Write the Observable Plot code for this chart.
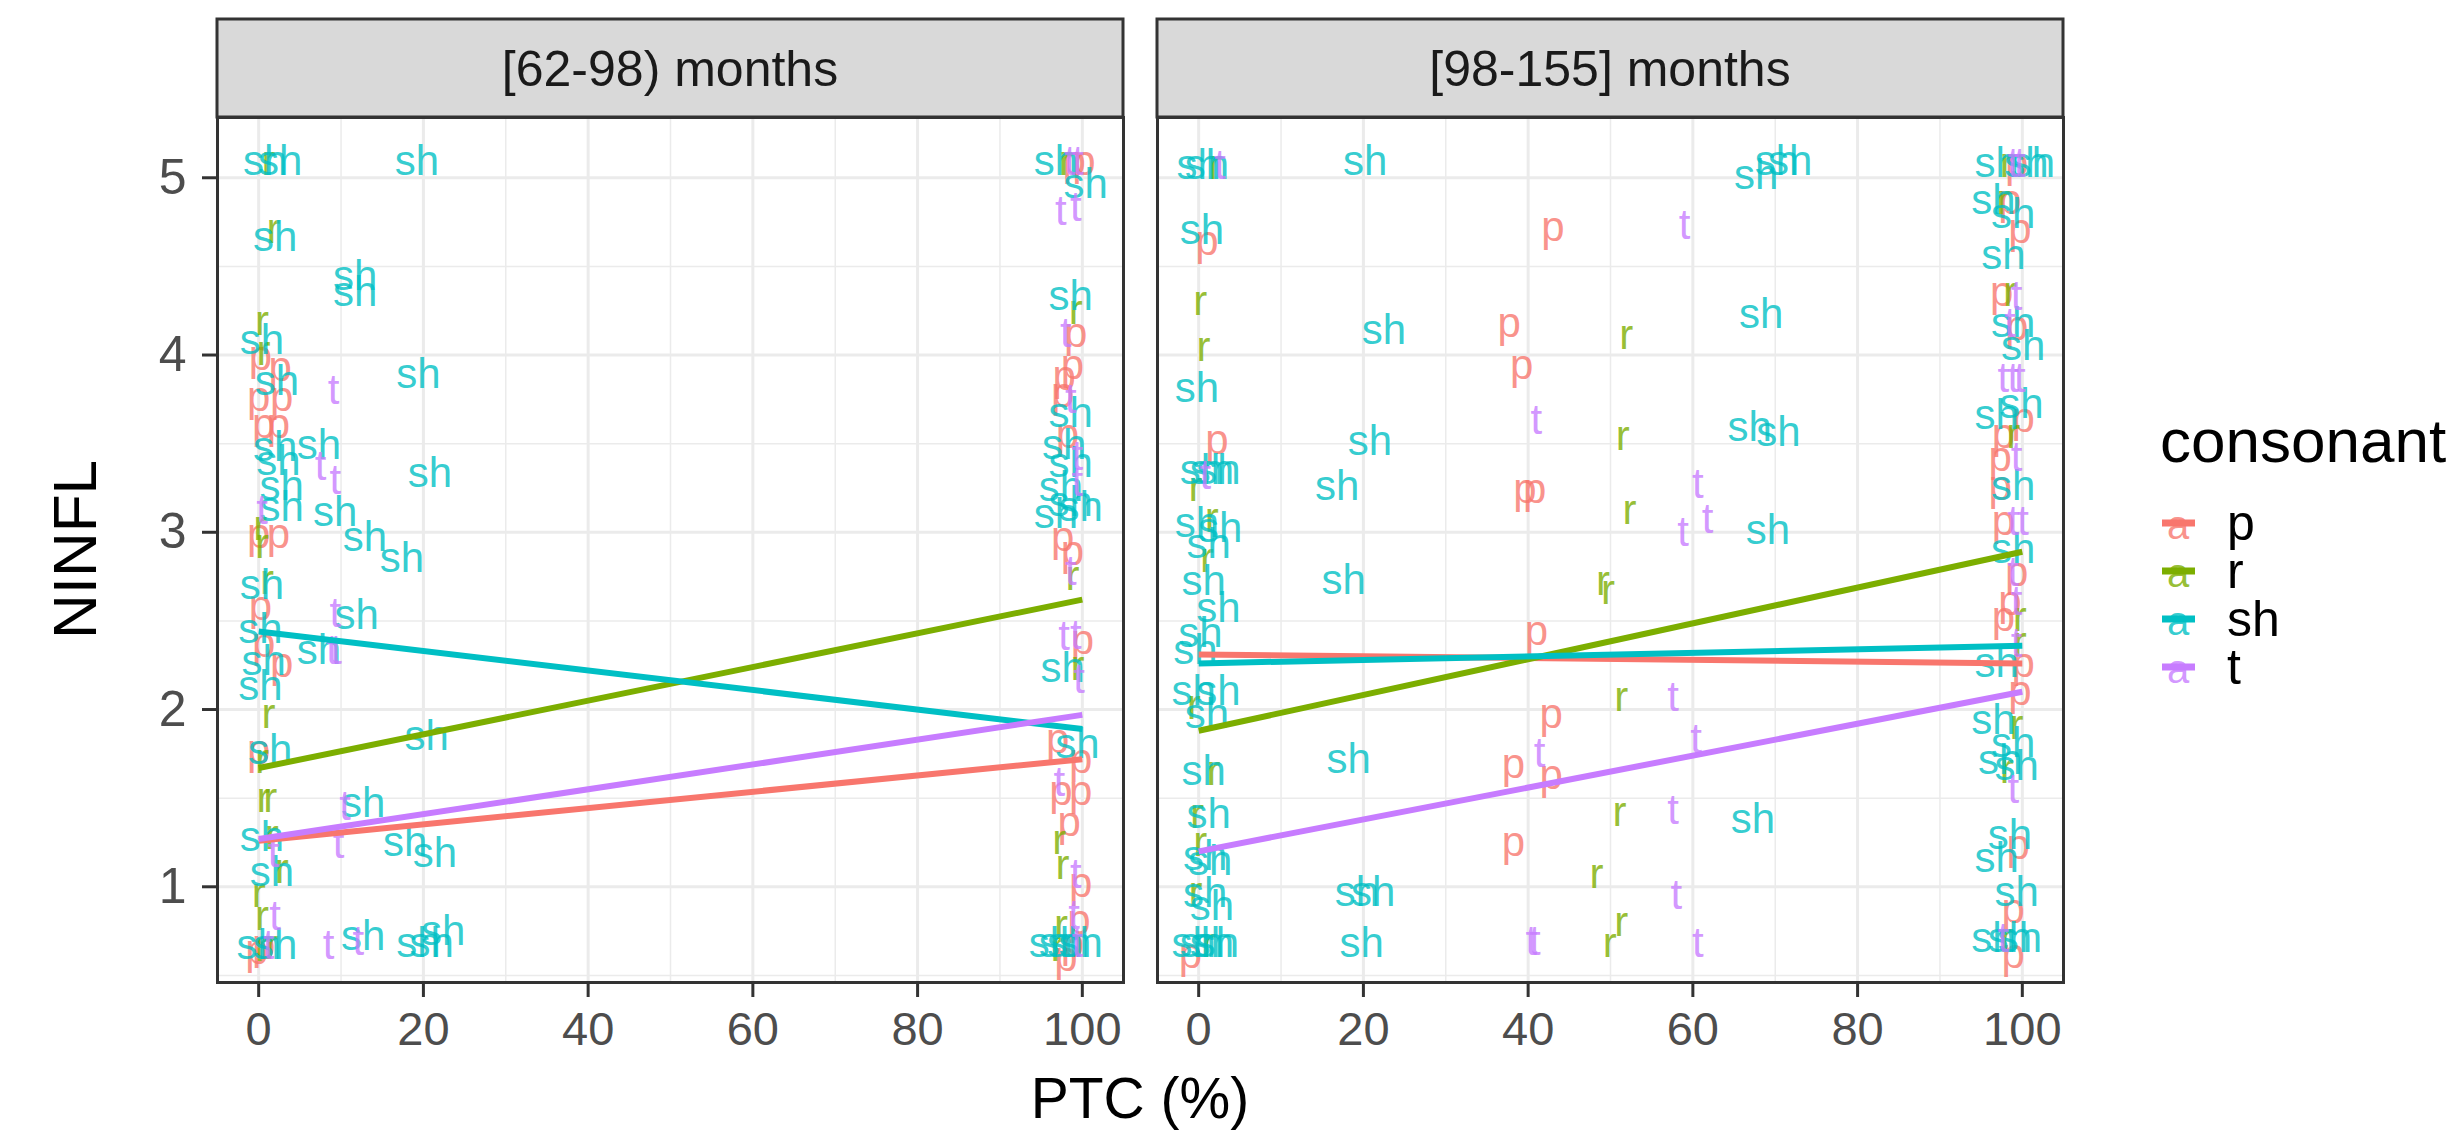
<!DOCTYPE html>
<html><head><meta charset="utf-8">
<script src="https://cdn.jsdelivr.net/npm/d3@7"></script>
<script src="https://cdn.jsdelivr.net/npm/@observablehq/plot@0.6"></script>
<style>
body{margin:0;background:#fff;font-family:"Liberation Sans",Arial,sans-serif;}
#wrap{position:relative;width:2455px;height:1133px;background:#fff;}
#chart{position:absolute;left:0;top:0;}
#legend{position:absolute;left:0;top:0;pointer-events:none;}
</style></head>
<body><div id="wrap"><div id="chart"></div><svg id="legend" width="2455" height="1133"></svg></div>
<script>
const panels = ["[62-98) months", "[98-155] months"];
const consonants = ["p", "r", "sh", "t"];
const palette = ["#F8766D", "#7CAE00", "#00BFC4", "#C77CFF"];
const xTicks = [0, 20, 40, 60, 80, 100];
const xMinor = [10, 30, 50, 70, 90];
const yTicks = [1, 2, 3, 4, 5];
const yMinor = [0.5, 1.5, 2.5, 3.5, 4.5];
const xDomain = [-5, 105];
const yDomain = [0.46, 5.34];

// label positions [PTC, NINFL], panel [62-98) months
const youngP = [[0.2,3.99],[2.6,3.93],[0.0,3.76],[2.8,3.76],[0.6,3.61],[2.4,3.61],[0.0,2.99],[2.4,2.99],[0.2,2.58],[0.6,2.37],[2.8,2.26],[0.0,1.77],[0.6,0.67],[-0.2,0.64],[99.0,5.09],[100.2,5.09],[99.2,4.12],[98.8,3.94],[97.8,3.88],[97.6,3.78],[98.2,3.55],[97.6,2.97],[98.8,2.89],[100.0,2.39],[97.0,1.83],[99.8,1.72],[97.4,1.54],[99.8,1.54],[98.4,1.36],[99.8,1.02],[99.6,0.81],[98.8,0.68],[98.0,0.60]];
const youngR = [[1.2,5.09],[1.8,4.71],[0.4,4.19],[0.6,4.02],[0.2,3.03],[0.4,2.93],[1.0,2.73],[1.2,1.97],[0.4,1.72],[0.6,1.50],[1.4,1.50],[1.6,1.29],[2.8,1.10],[0.0,0.96],[0.4,0.83],[1.6,0.67],[0.4,0.66],[98.0,5.09],[99.2,4.25],[98.8,2.75],[99.4,2.24],[97.2,1.26],[97.6,1.12],[97.4,0.78],[97.0,0.66]];
const youngSH = [[0.8,5.09],[2.6,5.09],[19.2,5.09],[2.0,4.66],[11.7,4.44],[11.7,4.35],[0.4,4.08],[2.2,3.85],[19.4,3.89],[2.0,3.48],[7.3,3.49],[2.4,3.40],[20.8,3.33],[2.8,3.26],[2.8,3.14],[9.3,3.11],[12.9,2.97],[17.4,2.85],[0.4,2.70],[11.9,2.53],[0.2,2.45],[7.3,2.33],[0.6,2.27],[0.2,2.13],[1.4,1.77],[20.4,1.85],[12.7,1.47],[0.4,1.28],[17.8,1.25],[21.4,1.19],[1.6,1.08],[0.0,0.67],[2.0,0.67],[12.7,0.72],[19.4,0.68],[21.0,0.68],[22.4,0.75],[96.8,5.09],[100.4,4.96],[98.6,4.33],[98.6,3.67],[97.8,3.49],[98.6,3.39],[97.4,3.25],[98.6,3.17],[99.8,3.14],[96.8,3.10],[97.6,2.23],[99.4,1.80],[96.2,0.68],[97.4,0.68],[98.4,0.68],[99.8,0.68]];
const youngT = [[9.1,3.80],[7.5,3.37],[9.3,3.29],[0.4,3.12],[9.3,2.54],[8.9,2.33],[9.4,2.33],[10.5,1.45],[9.7,1.24],[1.8,1.19],[2.0,0.83],[1.2,0.67],[8.5,0.67],[12.1,0.69],[99.5,5.09],[98.5,5.09],[97.4,4.81],[99.2,4.83],[98.0,4.12],[98.6,3.75],[99.4,3.43],[99.4,3.28],[98.6,2.78],[97.8,2.41],[99.2,2.42],[99.6,2.17],[97.2,1.59],[99.2,1.07],[99.0,0.84],[99.4,0.68]];

// label positions [PTC, NINFL], panel [98-155] months
const olderP = [[1.0,4.64],[2.2,3.52],[-1.0,0.62],[43.0,4.72],[37.7,4.18],[39.2,3.94],[39.6,3.24],[40.8,3.24],[41.0,2.44],[42.8,1.97],[38.2,1.69],[42.8,1.63],[38.2,1.25],[99.3,5.08],[98.5,4.87],[99.7,4.71],[97.5,4.35],[99.3,4.16],[100.1,3.64],[97.7,3.55],[97.3,3.42],[97.3,3.26],[97.7,3.06],[99.3,2.77],[98.5,2.61],[97.7,2.52],[100.1,2.26],[99.7,2.10],[99.5,1.23],[98.9,0.87],[98.9,0.62]];
const olderR = [[2.0,5.07],[0.2,4.30],[0.6,4.04],[-0.4,3.25],[1.6,3.08],[1.0,2.85],[-0.6,2.02],[1.8,1.65],[-0.2,1.41],[0.2,1.25],[-0.4,0.97],[1.2,0.68],[51.9,4.11],[51.5,3.54],[52.3,3.12],[49.1,2.72],[49.7,2.67],[51.3,2.07],[51.1,1.42],[48.3,1.07],[51.3,0.80],[49.9,0.68],[98.1,5.08],[97.7,4.87],[98.5,4.35],[98.9,3.55],[99.7,2.52],[99.7,2.38],[99.3,1.91],[98.1,1.66],[98.1,0.71]];
const olderSH = [[0.0,5.07],[1.0,5.07],[20.2,5.09],[0.4,4.70],[22.5,4.14],[-0.2,3.81],[20.8,3.51],[16.8,3.26],[0.4,3.35],[1.6,3.35],[2.4,3.35],[-0.2,3.05],[2.6,3.02],[1.2,2.93],[0.6,2.72],[2.4,2.57],[17.6,2.73],[0.2,2.43],[-0.4,2.33],[2.4,2.10],[-0.6,2.10],[1.0,1.97],[0.6,1.65],[18.2,1.72],[1.2,1.41],[0.8,1.17],[1.4,1.14],[0.8,0.96],[1.6,0.89],[19.2,0.97],[21.2,0.97],[19.8,0.68],[-0.6,0.68],[0.4,0.68],[1.6,0.68],[2.2,0.68],[67.7,5.01],[70.2,5.09],[71.8,5.09],[68.3,4.23],[66.9,3.59],[70.4,3.56],[69.1,3.01],[67.3,1.38],[96.9,5.08],[100.5,5.08],[101.3,5.08],[96.5,4.87],[98.9,4.79],[97.7,4.56],[98.9,4.18],[100.1,4.05],[99.9,3.72],[96.9,3.66],[98.9,3.26],[98.9,2.90],[96.9,2.26],[96.5,1.94],[98.9,1.81],[97.3,1.71],[99.3,1.68],[98.5,1.29],[96.9,1.16],[99.3,0.97],[96.5,0.71],[98.5,0.71],[99.7,0.71]];
const olderT = [[2.6,5.07],[0.8,3.32],[59.0,4.73],[41.0,3.63],[60.6,3.27],[61.8,3.07],[58.8,3.00],[57.6,2.07],[60.4,1.83],[41.4,1.75],[57.6,1.43],[58.0,0.95],[40.4,0.69],[40.8,0.69],[60.6,0.68],[98.9,5.08],[99.7,5.08],[99.3,4.33],[98.5,4.18],[97.7,3.87],[98.9,3.87],[99.7,3.87],[99.3,3.42],[98.9,3.06],[100.1,3.06],[98.9,2.77],[99.3,2.61],[99.3,2.37],[98.9,1.55],[97.7,0.71]];

// linear fits: NINFL at PTC = 0 and PTC = 100, per consonant (p, r, sh, t)
const fitPTC = [0, 100];
const youngFit0 = [1.26, 1.67, 2.44, 1.27];
const youngFit100 = [1.72, 2.62, 1.89, 1.97];
const olderFit0 = [2.31, 1.88, 2.26, 1.20];
const olderFit100 = [2.26, 2.89, 2.36, 2.10];

const groups = [
  [panels[0], "p", youngP], [panels[0], "r", youngR], [panels[0], "sh", youngSH], [panels[0], "t", youngT],
  [panels[1], "p", olderP], [panels[1], "r", olderR], [panels[1], "sh", olderSH], [panels[1], "t", olderT]
];
const labels = groups.flatMap(([panel, consonant, pts]) => pts.map(([PTC, NINFL]) => ({panel, consonant, PTC, NINFL})));
const fits = [];
consonants.forEach((c, i) => {
  [[panels[0], youngFit0, youngFit100], [panels[1], olderFit0, olderFit100]].forEach(([panel, f0, f1]) => {
    fits.push({panel, consonant: c, PTC: fitPTC[0], NINFL: f0[i]});
    fits.push({panel, consonant: c, PTC: fitPTC[1], NINFL: f1[i]});
  });
});

const W = 2080, H = 1133, mL = 216, mR = 16, mT = 117, mB = 151;
const font = "'Liberation Sans', Arial, sans-serif";
const chart = Plot.plot({
  width: W, height: H,
  marginLeft: mL, marginRight: mR, marginTop: mT, marginBottom: mB,
  style: {fontFamily: font, background: "transparent", overflow: "visible"},
  fx: {domain: panels, paddingInner: 0.036, paddingOuter: 0, axis: null, label: null},
  x: {domain: xDomain},
  y: {domain: yDomain},
  color: {domain: consonants, range: palette},
  marks: [
    Plot.gridX(xMinor, {stroke: "#EBEBEB", strokeOpacity: 1, strokeWidth: 1.5}),
    Plot.gridY(yMinor, {stroke: "#EBEBEB", strokeOpacity: 1, strokeWidth: 1.5}),
    Plot.gridX(xTicks, {stroke: "#EBEBEB", strokeOpacity: 1, strokeWidth: 3}),
    Plot.gridY(yTicks, {stroke: "#EBEBEB", strokeOpacity: 1, strokeWidth: 3}),
    Plot.text(labels, {fx: "panel", x: "PTC", y: "NINFL", text: "consonant", fill: "consonant", fillOpacity: 0.8, fontSize: 42}),
    Plot.line(fits, {fx: "panel", x: "PTC", y: "NINFL", z: "consonant", stroke: "consonant", strokeWidth: 6, strokeLinecap: "butt"}),
    Plot.frame({stroke: "#333333", strokeWidth: 3}),
    Plot.axisX(xTicks, {tickSize: 15, tickPadding: 14, fontSize: 47, fill: "#4D4D4D", stroke: "#333333", strokeWidth: 3, label: null, tickFormat: d => String(d)}),
    Plot.axisY(yTicks, {tickSize: 15, tickPadding: 16, fontSize: 50, fill: "#4D4D4D", stroke: "#333333", strokeWidth: 3, label: null, tickFormat: d => String(d)})
  ]
});
document.getElementById("chart").appendChild(chart);

// facet strips
const fxScale = chart.scale("fx");
const svg = d3.select(chart);
const bw = fxScale.bandwidth;
const stripTop = 19;
panels.forEach(p => {
  const x0 = fxScale.apply(p);
  const g = svg.append("g");
  g.append("rect").attr("x", x0).attr("y", stripTop).attr("width", bw).attr("height", mT - stripTop)
    .attr("fill", "#D9D9D9").attr("stroke", "#333333").attr("stroke-width", 3);
  g.append("text").attr("x", x0 + bw / 2).attr("y", (stripTop + mT) / 2).attr("dy", "0.35em")
    .attr("text-anchor", "middle").attr("font-size", 50).attr("fill", "#1A1A1A").attr("font-family", font).text(p);
});
// axis titles
svg.append("text").attr("x", (mL + W - mR) / 2).attr("y", 1118).attr("text-anchor", "middle")
  .attr("font-size", 57).attr("fill", "#000").attr("font-family", font).text("PTC (%)");
svg.append("text").attr("transform", `translate(96,${(mT + H - mB) / 2}) rotate(-90)`).attr("text-anchor", "middle")
  .attr("font-size", 62).attr("fill", "#000").attr("font-family", font).text("NINFL");

// legend
const lg = d3.select("#legend");
lg.append("text").attr("x", 2160).attr("y", 462).attr("font-size", 62).attr("font-family", font).attr("fill", "#000").text("consonant");
consonants.forEach((c, i) => {
  const cy = 523 + 48 * i;
  lg.append("text").attr("x", 2178).attr("y", cy + 16).attr("text-anchor", "middle").attr("font-size", 40)
    .attr("font-family", font).attr("fill", palette[i]).attr("fill-opacity", 0.8).text("a");
  lg.append("line").attr("x1", 2162).attr("x2", 2195).attr("y1", cy).attr("y2", cy)
    .attr("stroke", palette[i]).attr("stroke-width", 7);
  lg.append("text").attr("x", 2227).attr("y", cy + 17).attr("font-size", 50).attr("font-family", font).attr("fill", "#000").text(c);
});
</script></body></html>
